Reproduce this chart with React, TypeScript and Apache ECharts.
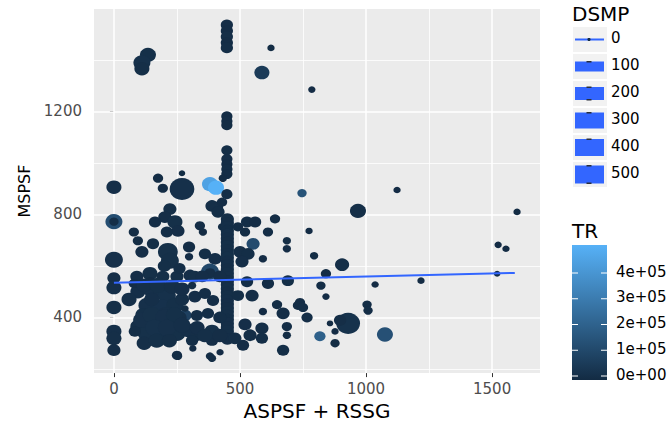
import React, { useEffect, useRef } from "react";
import * as echarts from "echarts";

// ASPSF + RSSG (x), MSPSF (y), DSMP (point size), TR (point colour)
const aspsfRssg = [
  448, 448, 448, 448, 448, 135, 111, 111, 623, 587,
  785, 448, 448, 448, 448, 448, 448, 448, 448, 432,
  0, 175, 194, 270, 270, 381, 405, 448, 746, 1123,
  968, 1599, 409, 389, 429, 413, 0, 0, 222, 202,
  242, 163, 254, 210, 79, 95, 155, 111, 214, 222,
  298, 298, 341, 353, 429, 361, 401,
  450, 450, 450, 450, 450, 450, 450, 450, 450, 450, 450, 450, 450, 450, 450, 450,
  450, 450, 450, 450, 450, 450, 450, 450, 450, 450, 450, 450, 450, 450, 450, 450,
  492, 528, 560, 520, 611, 639, 552, 500, 532, 508,
  591, 686, 686, 528, 611, 690, 548, 492, 591, 647,
  671, 730, 686, 686, 671, 520, 587, 540, 587, 512,
  480, 0, 0, 0, 0, 0, 0, 0, 91, 143,
  194, 250, 302, 381, 381, 321, 95, 155, 210, 131,
  190, 242, 171, 230, 95, 131, 190, 250, 294, 329,
  389, 282, 321, 361, 393, 329, 373, 282, 310, 143,
  79, 310, 389, 250, 313, 381, 421, 83, 254, 389,
  115, 270, 210, 150, 260,
  60, 120, 175, 230, 270, 110, 150, 200, 240, 160,
  210, 270, 120, 170, 220, 330, 360, 420, 420, 350,
  420, 260, 200,
  774, 794, 821, 841, 841, 905, 1036, 1218, 1004, 1008,
  1524, 1555, 1520, 738, 750, 766, 817, 877, 877, 857,
  929, 897, 1075,
];

const mspsf = [
  1536, 1513, 1490, 1467, 1447, 1420, 1389, 1366, 1447, 1351,
  1285, 1181, 1162, 1147, 1049, 1015, 995, 976, 957, 941,
  906, 941, 902, 960, 899, 918, 904, 879, 883, 895,
  814, 810, 829, 833, 848, 810, 772, 772, 821, 790,
  771, 771, 736, 732, 732, 698, 686, 655, 655, 620,
  674, 636, 756, 732, 752, 647, 628,
  782, 767, 752, 737, 722, 707, 692, 677, 662, 647, 632, 617, 602, 587, 572, 557,
  542, 527, 512, 497, 482, 467, 452, 437, 422, 407, 392, 377, 362, 347, 332, 317,
  752, 771, 771, 732, 732, 783, 686, 655, 647, 617,
  628, 698, 667, 539, 532, 543, 485, 485, 423, 450,
  416, 447, 365, 331, 273, 373, 358, 331, 319, 292,
  319, 624, 553, 516, 439, 346, 319, 273, 559, 570,
  559, 559, 563, 578, 572, 559, 500, 500, 485, 447,
  435, 447, 389, 385, 365, 338, 346, 338, 350, 331,
  346, 408, 481, 493, 466, 408, 416, 435, 524, 539,
  532, 311, 311, 253, 280, 250, 265, 346, 249, 242,
  410, 470, 410, 470, 400,
  470, 525, 525, 520, 510, 390, 410, 400, 410, 360,
  360, 370, 300, 310, 310, 360, 330, 330, 400, 560,
  560, 590, 600,
  736, 640, 524, 570, 481, 605, 528, 543, 450, 427,
  682, 667, 570, 458, 439, 400, 327, 346, 300, 377,
  377, 389, 334,
];

const dsmp = [
  40, 40, 40, 40, 40, 98, 117, 81, 3, 81,
  3, 29, 29, 29, 29, 29, 29, 29, 29, 7,
  81, 20, 20, 1, 325, 98, 98, 29, 13, 3,
  98, 3, 40, 52, 20, 52, 117, 13, 52, 52,
  81, 40, 52, 40, 20, 20, 40, 52, 183, 137,
  40, 7, 20, 7, 7, 40, 52,
  52, 52, 52, 52, 52, 52, 52, 52, 52, 52, 52, 52, 52, 52, 52, 52,
  52, 52, 52, 52, 52, 52, 52, 52, 52, 52, 52, 52, 52, 52, 52, 52,
  20, 40, 40, 20, 20, 20, 52, 52, 52, 52,
  7, 7, 7, 40, 40, 40, 52, 40, 7, 20,
  52, 20, 20, 7, 40, 52, 52, 52, 40, 40,
  52, 137, 52, 81, 81, 81, 81, 52, 52, 81,
  52, 52, 52, 137, 29, 52, 81, 117, 137, 117,
  183, 117, 183, 183, 81, 137, 137, 117, 81, 52,
  81, 52, 52, 40, 40, 40, 40, 3, 7, 20,
  20, 40, 40, 20, 3, 7, 3, 40, 7, 7,
  81, 66, 137, 81, 66,
  81, 81, 117, 98, 81, 117, 137, 137, 117, 137,
  137, 117, 81, 98, 81, 81, 81, 81, 52, 52,
  52, 40, 52,
  3, 7, 13, 20, 3, 66, 3, 3, 13, 13,
  3, 3, 1, 20, 20, 29, 29, 3, 13, 1,
  294, 40, 98,
];

const tr = [
  12000, 8000, 15000, 9000, 11000, 18000, 22000, 14000, 6000, 60000,
  5000, 9000, 12000, 7000, 10000, 13000, 8000, 11000, 9000, 4000,
  16000, 7000, 9000, 3000, 20000, 450000, 505000, 10000, 150000, 5000,
  14000, 4000, 12000, 15000, 8000, 11000, 130000, 10000, 14000, 12000,
  17000, 9000, 13000, 10000, 6000, 7000, 11000, 12000, 21000, 18000,
  9000, 5000, 8000, 4000, 6000, 10000, 13000,
  15000, 12000, 14000, 11000, 16000, 13000, 12000, 18000, 15000, 14000, 17000, 13000, 16000, 12000, 15000, 14000,
  11000, 13000, 15000, 12000, 14000, 16000, 13000, 12000, 15000, 14000, 11000, 13000, 12000, 15000, 14000, 13000,
  8000, 10000, 9000, 7000, 8000, 9000, 120000, 12000, 11000, 13000,
  5000, 6000, 5000, 10000, 9000, 11000, 12000, 10000, 5000, 7000,
  12000, 8000, 9000, 6000, 10000, 13000, 12000, 11000, 10000, 9000,
  14000, 19000, 13000, 15000, 14000, 16000, 15000, 12000, 13000, 17000,
  15000, 14000, 13000, 110000, 12000, 14000, 16000, 20000, 22000, 19000,
  24000, 18000, 25000, 23000, 15000, 21000, 20000, 18000, 16000, 12000,
  17000, 80000, 13000, 11000, 12000, 10000, 11000, 6000, 7000, 9000,
  8000, 10000, 12000, 9000, 5000, 6000, 5000, 11000, 6000, 7000,
  17000, 15000, 19000, 16000, 14000,
  14000, 16000, 18000, 15000, 13000, 19000, 21000, 20000, 17000, 22000,
  19000, 16000, 14000, 18000, 15000, 13000, 14000, 12000, 11000, 13000,
  12000, 10000, 14000,
  5000, 6000, 8000, 9000, 5000, 14000, 5000, 4000, 8000, 9000,
  5000, 4000, 3000, 9000, 10000, 12000, 200000, 5000, 7000, 4000,
  26000, 12000, 140000,
];

// Fitted trend of MSPSF on ASPSF + RSSG
const fitX = [0, 1590];
const fitY = [535, 573];

const xTicks = [0, 500, 1000, 1500];
const xMinor = [250, 750, 1250];
const yTicks = [400, 800, 1200];
const yMinor = [200, 600, 1000, 1400];

const dsmpKeys = ["0", "100", "200", "300", "400", "500"];
const trLabels = ["0e+00", "1e+05", "2e+05", "3e+05", "4e+05"];

const FONT = "DejaVu Sans";

export default function App() {
  const ref = useRef<HTMLDivElement>(null);

  useEffect(() => {
    if (!ref.current) return;
    const chart = echarts.init(ref.current, null, { renderer: "svg" });

    const points = aspsfRssg.map((x, i) => [x, mspsf[i], dsmp[i], tr[i]]);
    const fit = fitX.map((x, i) => [x, fitY[i]]);

    const gridLines = [
      ...xTicks.map((v) => ({ xAxis: v, lineStyle: { width: 1.5 } })),
      ...xMinor.map((v) => ({ xAxis: v, lineStyle: { width: 0.8 } })),
      ...yTicks.map((v) => ({ yAxis: v, lineStyle: { width: 1.5 } })),
      ...yMinor.map((v) => ({ yAxis: v, lineStyle: { width: 0.8 } })),
    ];

    // DSMP legend: key backgrounds, bar heights and labels
    const keyTop = 27;
    const keyStep = 27;
    const barHeights = [2, 10, 13, 16, 17, 18];
    const markTop = [false, true, true, true, true, true];
    const markBottom = [false, false, true, false, false, true];
    const legendEls: any[] = [];
    legendEls.push({
      type: "text",
      left: 572,
      top: 4,
      style: { text: "DSMP", font: `20px ${FONT}`, fill: "#000" },
    });
    dsmpKeys.forEach((label, i) => {
      const top = keyTop + i * keyStep;
      const cy = top + 12.5;
      legendEls.push({
        type: "rect",
        shape: { x: 573, y: top, width: 34, height: 25 },
        style: { fill: "#F2F2F2" },
      });
      const h = barHeights[i];
      legendEls.push({
        type: "rect",
        shape: { x: 575, y: cy - h / 2, width: 29, height: h },
        style: { fill: "#3366FF" },
      });
      if (i === 0) {
        legendEls.push({
          type: "circle",
          shape: { cx: 589, cy, r: 1.6 },
          style: { fill: "#132B43" },
        });
      }
      if (markTop[i]) {
        legendEls.push({
          type: "rect",
          shape: { x: 586.5, y: cy - h / 2 - 0.5, width: 5, height: 1.5 },
          style: { fill: "#2a2f3a" },
        });
      }
      if (markBottom[i]) {
        legendEls.push({
          type: "rect",
          shape: { x: 586.5, y: cy + h / 2 - 1, width: 5, height: 1.5 },
          style: { fill: "#2a2f3a" },
        });
      }
      legendEls.push({
        type: "text",
        left: 611,
        top: cy - 9,
        style: { text: label, font: `15px ${FONT}`, fill: "#000" },
      });
    });

    // TR colour bar
    const barTop = 245;
    const barBottom = 380;
    const zeroY = 376;
    const stepY = 25.75;
    legendEls.push({
      type: "text",
      left: 572,
      top: 221,
      style: { text: "TR", font: `20px ${FONT}`, fill: "#000" },
    });
    legendEls.push({
      type: "rect",
      shape: { x: 572, y: barTop, width: 35, height: barBottom - barTop },
      style: {
        fill: {
          type: "linear",
          x: 0,
          y: 0,
          x2: 0,
          y2: 1,
          colorStops: [
            { offset: 0, color: "#56B1F7" },
            { offset: 1, color: "#132B43" },
          ],
        },
      },
    });
    trLabels.forEach((label, i) => {
      const y = zeroY - i * stepY;
      legendEls.push({
        type: "line",
        shape: { x1: 572, y1: y, x2: 578, y2: y },
        style: { stroke: "#FFFFFF", lineWidth: 1 },
      });
      legendEls.push({
        type: "line",
        shape: { x1: 601, y1: y, x2: 607, y2: y },
        style: { stroke: "#FFFFFF", lineWidth: 1 },
      });
      legendEls.push({
        type: "text",
        left: 616,
        top: y - 9,
        style: { text: label, font: `15px ${FONT}`, fill: "#000" },
      });
    });

    chart.setOption({
      animation: false,
      backgroundColor: "#FFFFFF",
      textStyle: { fontFamily: FONT },
      grid: {
        left: 94,
        right: 127,
        top: 9,
        bottom: 51,
        show: true,
        backgroundColor: "#EBEBEB",
        borderWidth: 0,
      },
      xAxis: {
        type: "value",
        min: -79,
        max: 1690,
        name: "ASPSF + RSSG",
        nameLocation: "middle",
        nameGap: 25,
        nameTextStyle: { fontSize: 20, color: "#000", fontFamily: FONT },
        axisLine: { show: false },
        splitLine: { show: false },
        axisTick: {
          show: true,
          length: 4,
          customValues: xTicks,
          lineStyle: { color: "#333333", width: 1 },
        },
        axisLabel: {
          customValues: xTicks,
          margin: 8,
          fontSize: 15,
          color: "#4D4D4D",
          fontFamily: FONT,
          formatter: (v: number) => String(v),
        },
      },
      yAxis: {
        type: "value",
        min: 184,
        max: 1598,
        name: "MSPSF",
        nameLocation: "middle",
        nameGap: 52,
        nameRotate: 90,
        nameTextStyle: { fontSize: 16, color: "#000", fontFamily: FONT },
        axisLine: { show: false },
        splitLine: { show: false },
        axisTick: {
          show: true,
          length: 4,
          customValues: yTicks,
          lineStyle: { color: "#333333", width: 1 },
        },
        axisLabel: {
          customValues: yTicks,
          margin: 12,
          fontSize: 15,
          color: "#4D4D4D",
          fontFamily: FONT,
          formatter: (v: number) => String(v),
        },
      },
      visualMap: {
        type: "continuous",
        show: false,
        dimension: 3,
        min: 0,
        max: 505000,
        seriesIndex: 1,
        inRange: { color: ["#132B43", "#56B1F7"] },
      },
      series: [
        {
          name: "grid",
          type: "line",
          data: [],
          z: 1,
          silent: true,
          markLine: {
            z: 1,
            silent: true,
            symbol: ["none", "none"],
            label: { show: false },
            lineStyle: { color: "#FFFFFF", type: "solid" },
            emphasis: { disabled: true },
            data: gridLines,
          },
        },
        {
          name: "TR",
          type: "scatter",
          z: 2,
          data: points,
          symbol: "circle",
          symbolSize: (val: number[]) => {
            const w = 5.5 + 25 * Math.sqrt(val[2] / 550);
            return [w, w / 1.12];
          },
          itemStyle: { opacity: 1 },
          emphasis: { disabled: true },
        },
        {
          name: "fit",
          type: "line",
          z: 3,
          data: fit,
          symbol: "none",
          lineStyle: { color: "#3366FF", width: 2 },
          emphasis: { disabled: true },
        },
      ],
      graphic: legendEls,
    });

    return () => chart.dispose();
  }, []);

  return (
    <div
      ref={ref}
      style={{ position: "absolute", left: 0, top: 0, width: 667, height: 426 }}
    />
  );
}
